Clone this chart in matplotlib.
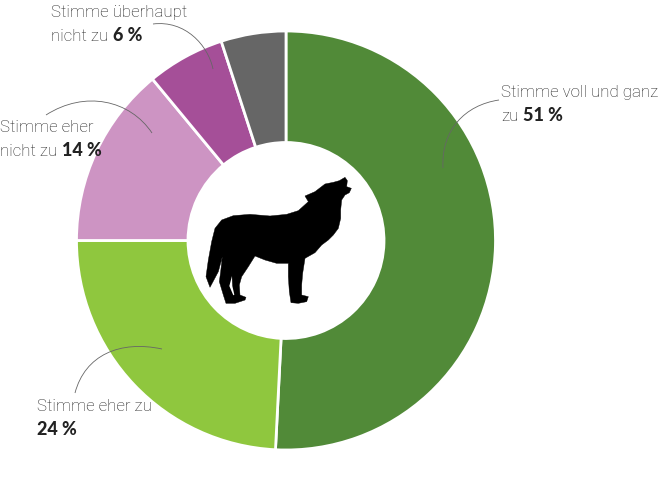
import numpy as np
import matplotlib
matplotlib.use("Agg")
import matplotlib.pyplot as plt
from matplotlib.patches import Polygon, PathPatch
from matplotlib.path import Path

plt.rcParams["font.family"] = ["Lato", "DejaVu Sans"]

categories = ["Stimme voll und ganz", "Stimme eher zu", "Stimme eher nicht zu", "Stimme überhaupt nicht zu", "keine Angabe"]
values = [50.8, 24.2, 14, 6, 5]
colors = ["#518a38", "#8fc73e", "#cd94c3", "#a54f98", "#666666"]

# wolf outline, traced on a 3x crop starting at (190, 160)
wolf = [(465, 52), (472, 62), (470, 80), (484, 85), (478, 98), (465, 105), (455, 120), (452, 150),
        (452, 175), (445, 205), (430, 225), (415, 240), (395, 255), (375, 278), (345, 295), (338, 340),
        (335, 375), (335, 405), (355, 410), (350, 425), (325, 430), (303, 428), (298, 395), (295, 350),
        (295, 310), (260, 310), (225, 300), (195, 288), (175, 320), (155, 350), (148, 375), (150, 405),
        (168, 412), (165, 420), (135, 430), (108, 430), (100, 405), (88, 365), (92, 335), (97, 290),
        (85, 335), (60, 382), (48, 350), (55, 300), (65, 245), (75, 205), (95, 180), (130, 167),
        (180, 163), (240, 168), (290, 163), (325, 152), (355, 125), (345, 108), (375, 95), (405, 72),
        (430, 67), (448, 62)]
wolf_gap = [(126, 348), (118, 378), (130, 406), (133, 404), (127, 378)]

W, H = 666, 497
fig = plt.figure(figsize=(W / 100, H / 100), dpi=100)
ax = fig.add_axes([0, 0, 1, 1])

cx, cy, r = 286, 240.5, 209.5
# y axis is flipped below, so the ring starts at -90 and runs "counterclockwise"
ax.pie(values, colors=colors, center=(cx, cy), radius=r, startangle=-90, counterclock=True,
       wedgeprops=dict(width=r - 98, edgecolor="white", linewidth=2), frame=False)
ax.set_xlim(0, W)
ax.set_ylim(H, 0)
ax.set_aspect("auto")
ax.axis("off")


def to_px(points):
    return [(190 + x / 3, 160 + y / 3) for x, y in points]


ax.add_patch(Polygon(to_px(wolf), closed=True, facecolor="black", edgecolor="black", linewidth=0.3, zorder=3))
ax.add_patch(Polygon(to_px(wolf_gap), closed=True, facecolor="white", edgecolor="none", zorder=3))


def curve(p0, p1, p2, p3):
    path = Path([p0, p1, p2, p3], [Path.MOVETO, Path.CURVE4, Path.CURVE4, Path.CURVE4])
    ax.add_patch(PathPatch(path, facecolor="none", edgecolor="#666666", linewidth=0.6, zorder=4))


curve((443, 168), (441, 130), (465, 105), (499, 100))
curve((152, 133), (130, 100), (85, 90), (46, 115))
curve((213, 69), (208, 45), (185, 20), (153, 24))
curve((162, 349), (120, 340), (85, 355), (75, 393))

font = dict(fontsize=12.2, color="#222222", va="baseline", family="Roboto", fontweight="light")
bold = dict(fontsize=13, color="#222222", va="baseline", fontweight="black")
ax.text(501, 97, "Stimme voll und ganz", **font)
ax.text(501, 121, "zu", **font)
ax.text(523, 121, "51 %", **bold)
ax.text(0, 132, "Stimme eher", **font)
ax.text(0, 156, "nicht zu", **font)
ax.text(62, 156, "14 %", **bold)
ax.text(51, 17, "Stimme überhaupt", **font)
ax.text(51, 41, "nicht zu", **font)
ax.text(113, 41, "6 %", **bold)
ax.text(37, 411, "Stimme eher zu", **font)
ax.text(37, 435, "24 %", **bold)

fig.savefig("out.png", dpi=100)
